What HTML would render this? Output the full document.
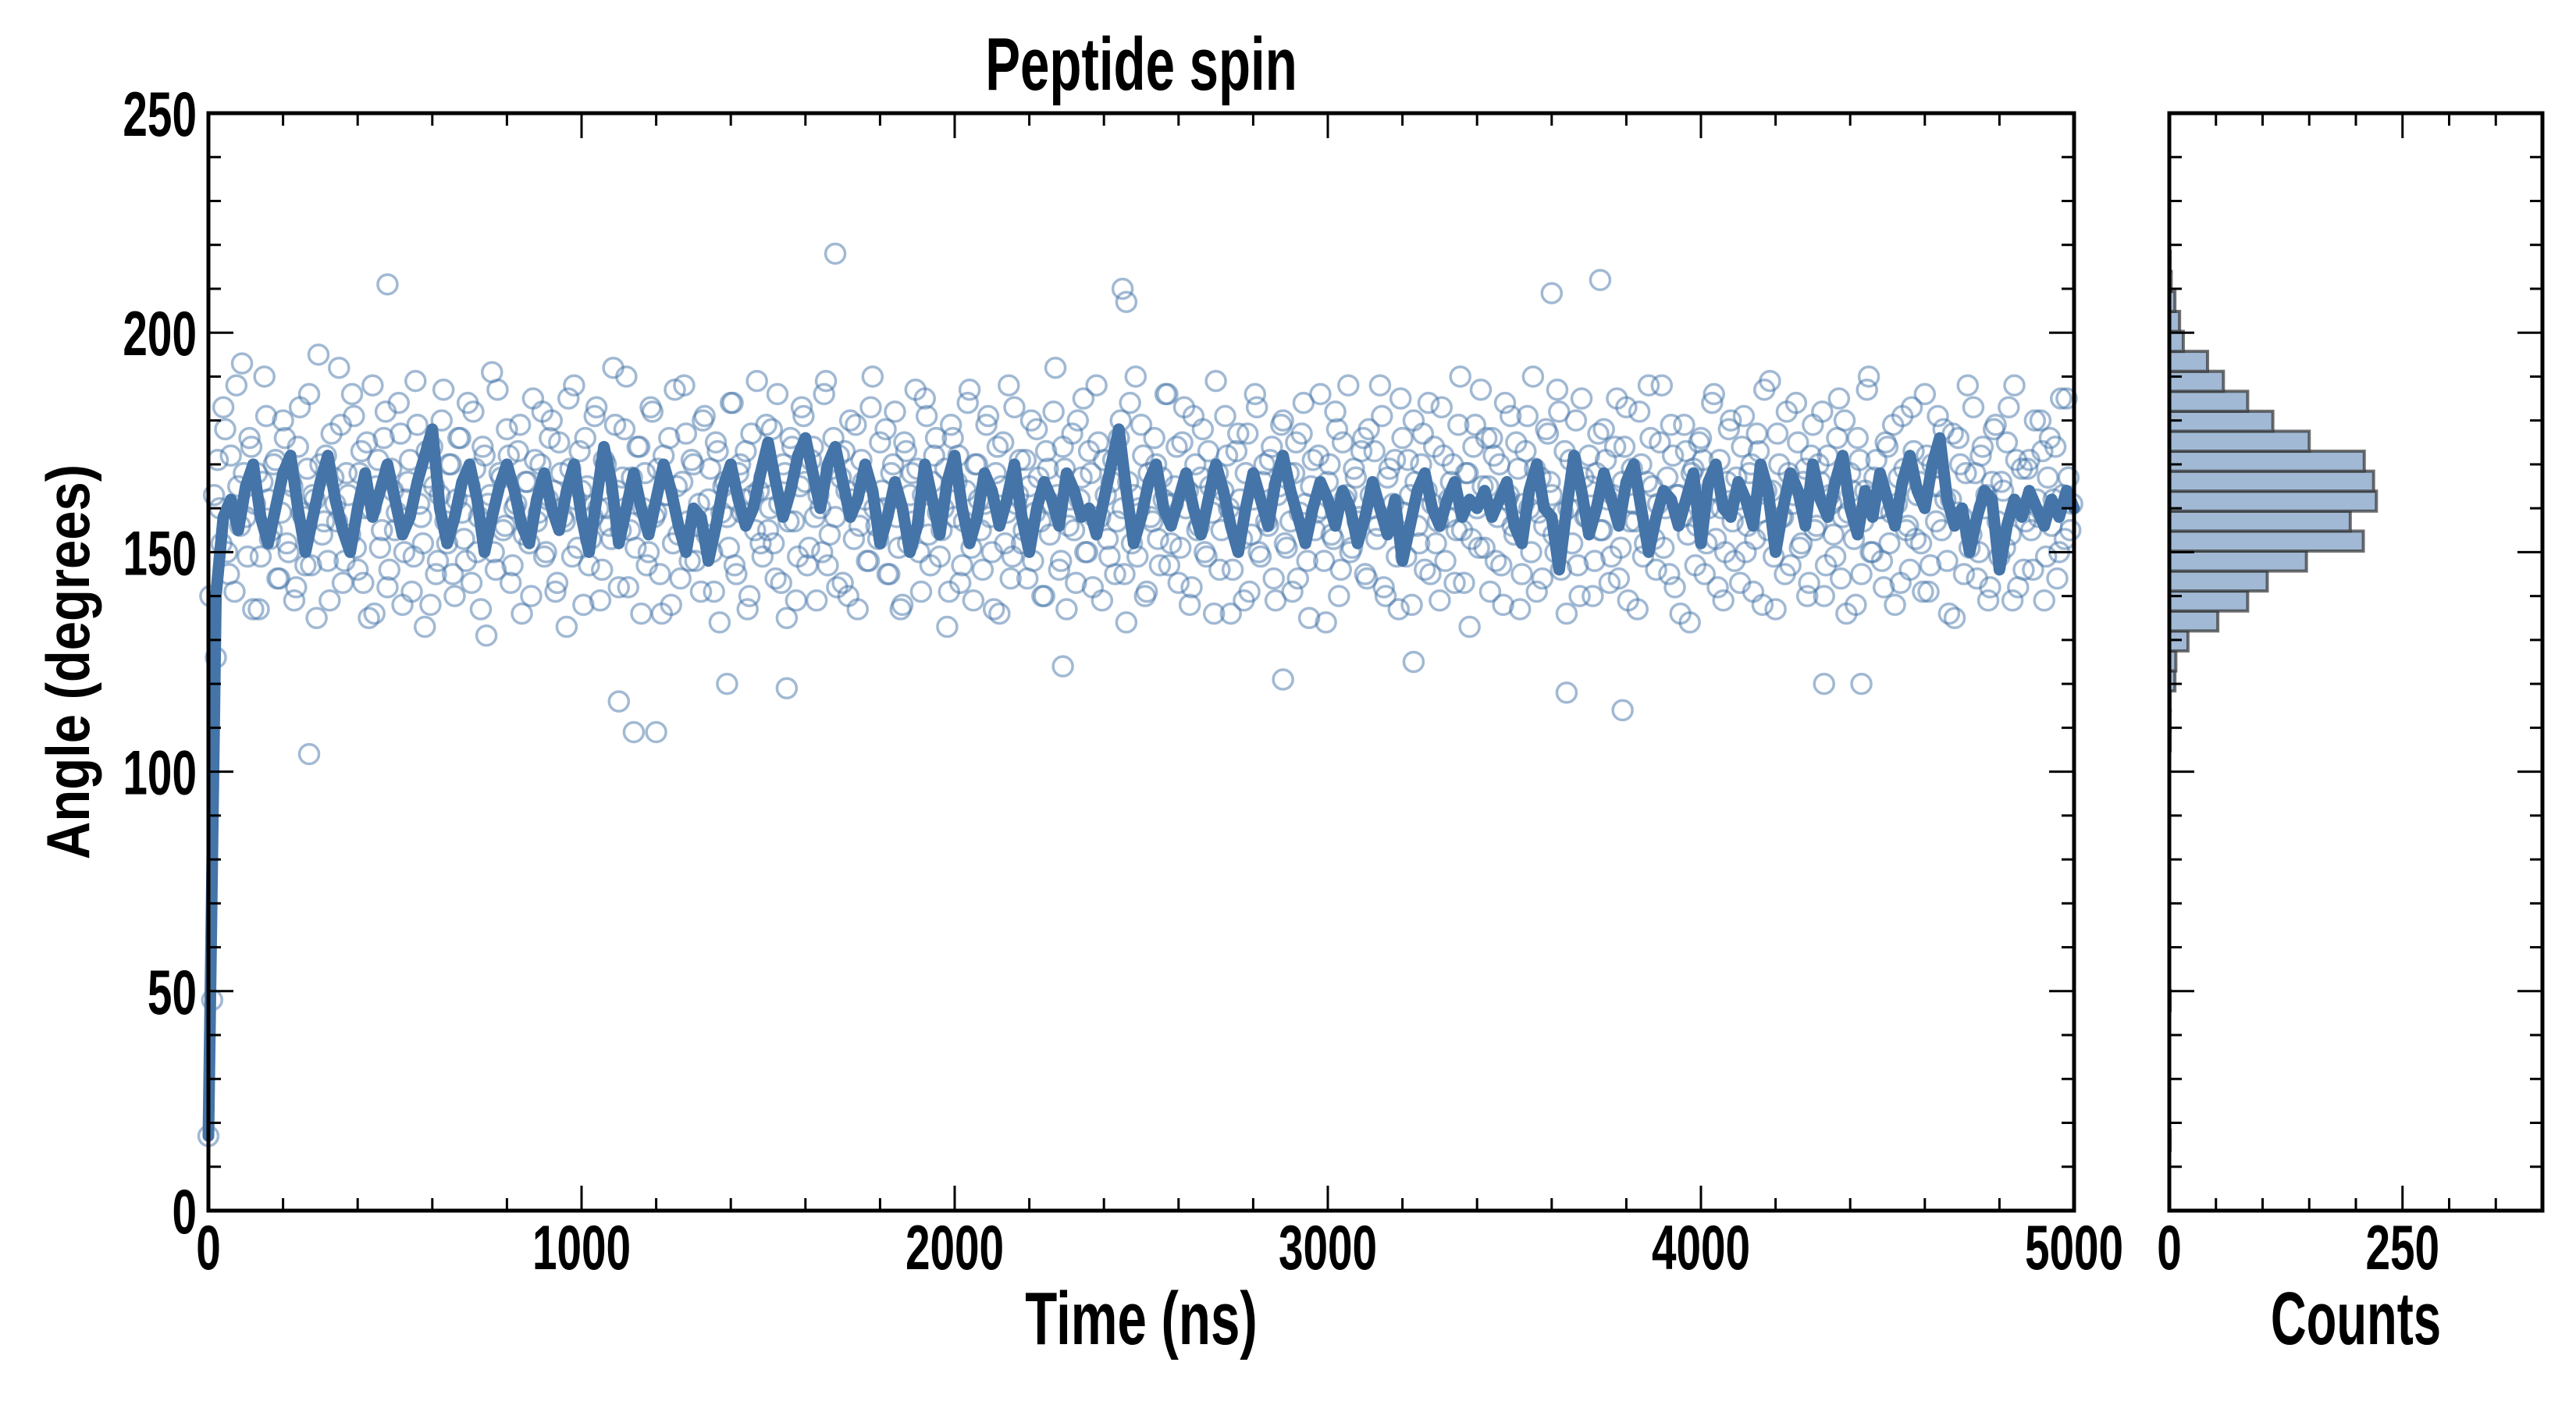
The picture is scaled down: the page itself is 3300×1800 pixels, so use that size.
<!DOCTYPE html>
<html><head><meta charset="utf-8"><style>
html,body{margin:0;padding:0;background:#fff;}
svg{display:block;}
</style></head><body>
<svg id="chart" xmlns="http://www.w3.org/2000/svg" width="3300" height="1800" viewBox="0 0 3300 1800">
<rect x="0" y="0" width="3300" height="1800" fill="#fff"/>
<g id="scatterG"></g>
<g id="lineG"></g>
<g id="histG"></g>
<g id="axesG"></g>
<text x="0" y="0" text-anchor="middle" font-family="'Liberation Sans Narrow','Liberation Sans',sans-serif" font-weight="bold" font-size="96" transform="translate(1462,115) scale(0.70,1)">Peptide spin</text>
<text x="0" y="0" text-anchor="middle" font-family="'Liberation Sans Narrow','Liberation Sans',sans-serif" font-weight="bold" font-size="96" transform="translate(1462,1722) scale(0.70,1)">Time (ns)</text>
<text x="0" y="0" text-anchor="middle" font-family="'Liberation Sans Narrow','Liberation Sans',sans-serif" font-weight="bold" font-size="96" transform="translate(3018,1722) scale(0.66,1)">Counts</text>
<text x="0" y="0" text-anchor="middle" font-family="'Liberation Sans',sans-serif" font-weight="bold" font-size="78" textLength="506" lengthAdjust="spacingAndGlyphs" transform="translate(114,848) rotate(-90)">Angle (degrees)</text>
</svg>
<script>
// ---- data ----
const scatterAngles = [
17,48,126,160,183,150,172,141,165,193,
158,176,137,168,149,190,162,155,171,144,
180,152,166,139,174,159,147,186,163,135,
170,157,148,177,161,192,143,168,154,181,
146,173,160,135,188,165,151,176,142,169,
155,184,138,162,171,149,179,158,133,167,
174,145,163,187,152,170,140,176,159,148,
165,182,150,137,172,161,191,146,168,155,
178,143,160,173,136,166,152,185,157,170,
149,162,180,141,175,158,133,169,188,151,
164,176,147,158,183,139,171,160,153,179,
142,167,190,155,161,174,136,168,150,182,
159,145,172,163,138,187,154,166,177,148,
170,156,141,181,162,150,175,134,165,158,
184,147,168,159,173,140,163,189,152,167,
155,178,144,161,170,135,176,157,149,183,
166,151,174,139,160,186,147,169,158,172,
143,164,180,153,137,171,162,148,190,156,
175,160,145,168,182,151,138,173,163,157,
169,141,185,154,166,176,149,160,133,179,
158,172,147,164,187,139,170,155,161,181,
150,168,136,175,159,144,183,163,152,171,
165,148,178,157,140,169,161,192,146,174,
137,162,155,180,167,150,173,142,188,158,
171,153,166,145,176,160,134,184,163,149,
179,140,168,157,170,147,162,186,152,165,
143,175,160,138,181,155,167,150,173,159,
189,146,164,172,136,158,177,153,168,141,
162,183,149,170,156,174,139,165,180,151,
157,168,144,177,161,135,171,159,186,148,
166,154,182,140,175,163,150,169,157,173,
145,178,160,153,188,142,167,158,171,137,
176,149,163,180,156,170,146,184,161,152,
139,172,158,166,143,179,155,168,133,174,
160,187,151,165,176,148,170,138,162,181,
154,169,145,173,160,190,141,167,156,177,
163,150,182,159,136,171,164,147,185,158,
172,140,168,155,178,162,149,174,144,166,
183,157,161,137,170,152,188,165,146,175,
151,167,179,142,163,158,173,134,169,156,
176,145,160,184,153,171,139,166,180,148,
162,174,150,168,141,177,159,187,155,164,
137,170,158,182,147,163,175,152,169,143,
179,156,166,140,172,161,149,185,158,136,
168,153,176,145,164,190,150,171,160,142,
174,159,138,167,181,155,146,173,163,152,
186,141,170,157,165,178,148,162,135,176,
158,168,151,183,144,172,160,139,166,179,
149,164,175,154,188,142,169,157,171,146,
162,180,139,167,156,174,150,163,185,155
];
const scatterAngles2 = [
140,163,171,152,178,145,160,188,156,168,
149,174,161,137,166,181,153,170,144,159,
176,150,165,142,183,158,169,147,162,195,
154,172,139,167,157,179,148,163,186,151,
168,143,175,160,136,171,155,182,146,164,
159,177,150,166,141,189,161,152,173,138,
165,148,180,157,170,145,162,176,153,184,
143,169,158,174,131,163,150,187,167,156,
172,147,161,179,154,166,140,171,159,182,
150,176,164,143,168,157,185,149,162,173,
138,165,153,181,160,146,170,156,192,164,
155,178,142,167,151,174,160,147,183,158,
169,136,163,176,152,165,144,188,157,171,
148,161,180,154,169,141,173,159,166,151,
184,145,170,162,137,177,155,164,149,179,
160,152,186,143,168,157,174,139,165,181,
147,171,158,163,150,189,154,176,142,167,
173,140,162,179,156,166,148,183,160,153,
164,178,145,170,158,137,175,152,168,187,
150,163,181,147,172,159,155,169,141,176,
166,143,157,184,151,170,162,146,179,158,
137,174,165,152,188,149,161,171,155,144,
180,159,167,140,173,154,182,163,148,169,
156,177,143,162,185,150,168,158,175,139,
163,149,171,157,180,145,166,152,190,160,
172,141,158,176,153,167,186,147,161,174,
151,183,164,142,170,156,178,149,165,136,
168,155,181,160,146,173,162,139,177,154,
186,150,166,157,171,144,163,179,152,168,
141,175,159,184,148,165,155,172,160,134,
170,153,178,146,162,188,151,167,158,176,
144,163,173,156,181,140,169,161,149,185,
159,171,138,166,152,177,164,145,174,157,
183,148,162,170,155,190,143,168,153,179,
151,165,176,141,172,158,147,184,163,156,
175,137,161,181,150,169,159,144,178,166,
154,187,146,173,160,152,180,140,167,158,
165,148,177,155,171,143,163,185,151,174,
139,169,157,182,149,166,176,153,161,188,
160,145,172,163,136,179,154,168,147,175,
171,152,164,186,142,160,150,178,157,167,
143,181,156,170,153,173,138,164,189,149,
177,158,145,168,161,184,151,166,140,172,
155,170,182,147,163,154,176,144,180,159,
164,138,171,157,187,150,167,160,148,175,
152,179,161,143,169,156,183,153,166,141,
172,147,165,181,155,162,136,177,159,170,
145,188,154,168,150,174,163,142,178,157,
166,151,183,139,171,160,146,169,155,180,
158,173,149,176,162,144,185,153,167,161
];
const outlierTimes = [270,480,1100,1140,1200,1680,2450,2460,3600,3640,3730,3790,1390,1550,2290,2880,3230,4330,4430];
const outlierAngles = [104,211,116,109,109,218,210,207,209,118,212,114,120,119,124,121,125,120,120];
const lineAngles = [
17,140,158,162,155,165,170,158,152,160,
168,172,160,150,158,166,172,162,155,150,
160,168,158,164,170,162,154,158,166,172,
178,160,152,158,166,170,162,150,158,165,
170,164,156,152,162,168,160,155,164,170,
158,150,162,174,166,152,160,168,160,154,
162,170,164,156,150,160,158,148,156,165,
170,162,156,160,168,175,166,158,164,172,
176,168,160,170,174,166,158,162,170,164,
152,158,166,160,150,156,170,162,154,166,
172,160,152,158,168,164,156,162,170,158,
150,160,166,162,156,168,164,158,160,154,
162,170,178,164,152,158,166,170,160,156,
162,168,160,154,162,170,164,156,150,160,
168,162,156,166,172,164,158,152,160,166,
162,156,164,160,152,158,166,160,154,162,
148,156,164,168,160,156,162,166,158,162,
160,164,158,162,166,156,152,164,170,160,
158,146,160,172,164,154,160,168,162,156,
166,170,160,150,158,164,162,156,162,168,
152,166,170,160,158,166,162,156,170,164,
150,160,168,164,156,170,162,158,166,172,
160,154,164,158,168,162,156,166,172,164,
160,170,176,162,156,160,150,158,164,162,
146,156,162,158,164,160,156,162,158,164,
160
];
const histCounts = [
1,0,0,0,0,0,0,1,0,0,
0,0,0,0,0,0,0,0,0,0,
1,1,1,6,7,20,52,84,105,147,
208,194,222,219,209,150,111,84,58,41,
15,11,6,2,1
];
const xTickLabels = ["0","1000","2000","3000","4000","5000"];
const yTickLabels = ["0","50","100","150","200","250"];
const histTickLabels = ["0","250"];
const scatterStep = 10, lineStep = 20, histLo = 13.75, histBin = 4.55;

// ---- scales ----
const X0=267,X1=2657,Y0=145,Y1=1551,HX0=2779,HX1=3257;
const xs = t => X0 + (t/5000)*(X1-X0);
const ys = a => Y1 - (a/250)*(Y1-Y0);
const hs = c => HX0 + (c/400)*(HX1-HX0);
const NS="http://www.w3.org/2000/svg";
function mk(tag, attrs, parent){const e=document.createElementNS(NS,tag);for(const k in attrs)e.setAttribute(k,attrs[k]);parent.appendChild(e);return e;}

const sg=document.getElementById('scatterG');
function dot(t,a){
  const c=mk('circle',{cx:xs(t),cy:ys(a),r:12.5,fill:'none',stroke:'#4474a8','stroke-opacity':0.5,'stroke-width':3.5},sg);
  
  
}
scatterAngles.forEach((a,i)=>dot(i*scatterStep,a));
scatterAngles2.forEach((a,i)=>dot(5+i*scatterStep,a));
outlierTimes.forEach((t,i)=>dot(t,outlierAngles[i]));

const lg=document.getElementById('lineG');
const pts=lineAngles.map((a,i)=>xs(i*lineStep).toFixed(1)+','+ys(a).toFixed(1)).join(' ');
const pl=mk('polyline',{points:pts,fill:'none',stroke:'#4474a8','stroke-width':15,'stroke-linejoin':'round','stroke-linecap':'round'},lg);



const hg=document.getElementById('histG');
histCounts.forEach((c,i)=>{
  if(c<=0) return;
  const lo=histLo+i*histBin, hi=lo+histBin;
  const r=mk('rect',{x:HX0,y:ys(hi),width:hs(c)-HX0,height:ys(lo)-ys(hi),fill:'#a1b9d4',stroke:'#333','stroke-opacity':0.7,'stroke-width':4},hg);
  
  
});

// ---- axes ----
const ag=document.getElementById('axesG');
function line(x1,y1,x2,y2,w,name){
  const l=mk('line',{x1,y1,x2,y2,stroke:'#000','stroke-width':w},ag);
  
  
}
function label(x,y,txt,anchor,name){
  const t=mk('text',{x:0,y:0,'text-anchor':anchor,'font-family':"'Liberation Sans Narrow','Liberation Sans',sans-serif",'font-weight':'bold','font-size':81,transform:`translate(${x},${y}) scale(0.70,1)`},ag);
  t.textContent=txt;
  
  
}
const fr=mk('rect',{x:X0,y:Y0,width:X1-X0,height:Y1-Y0,fill:'none',stroke:'#000','stroke-width':5},ag);


const hf=mk('rect',{x:HX0,y:Y0,width:HX1-HX0,height:Y1-Y0,fill:'none',stroke:'#000','stroke-width':5},ag);


for(let t=0;t<=5000;t+=200){const L=t%1000===0?32:16;const x=xs(t);line(x,Y1,x,Y1-L,3,'x-tick');line(x,Y0,x,Y0+L,3,'x-tick-top');}
for(let a=0;a<=250;a+=10){const L=a%50===0?32:16;const y=ys(a);
  line(X0,y,X0+L,y,3,'y-tick');line(X1,y,X1-L,y,3,'y-tick-right');
  line(HX0,y,HX0+L,y,3,'hist-y-tick');line(HX1,y,HX1-L,y,3,'hist-y-tick-right');}
for(let c=0;c<=400;c+=50){const L=c%250===0?32:16;const x=hs(c);line(x,Y1,x,Y1-L,3,'hist-x-tick');line(x,Y0,x,Y0+L,3,'hist-x-tick-top');}
xTickLabels.forEach(s=>label(xs(+s),1626,s,'middle','x-tick-label'));
yTickLabels.forEach(s=>label(252,ys(+s)+29,s,'end','y-tick-label'));
histTickLabels.forEach(s=>label(hs(+s),1626,s,'middle','hist-x-tick-label'));
</script>
</body></html>
